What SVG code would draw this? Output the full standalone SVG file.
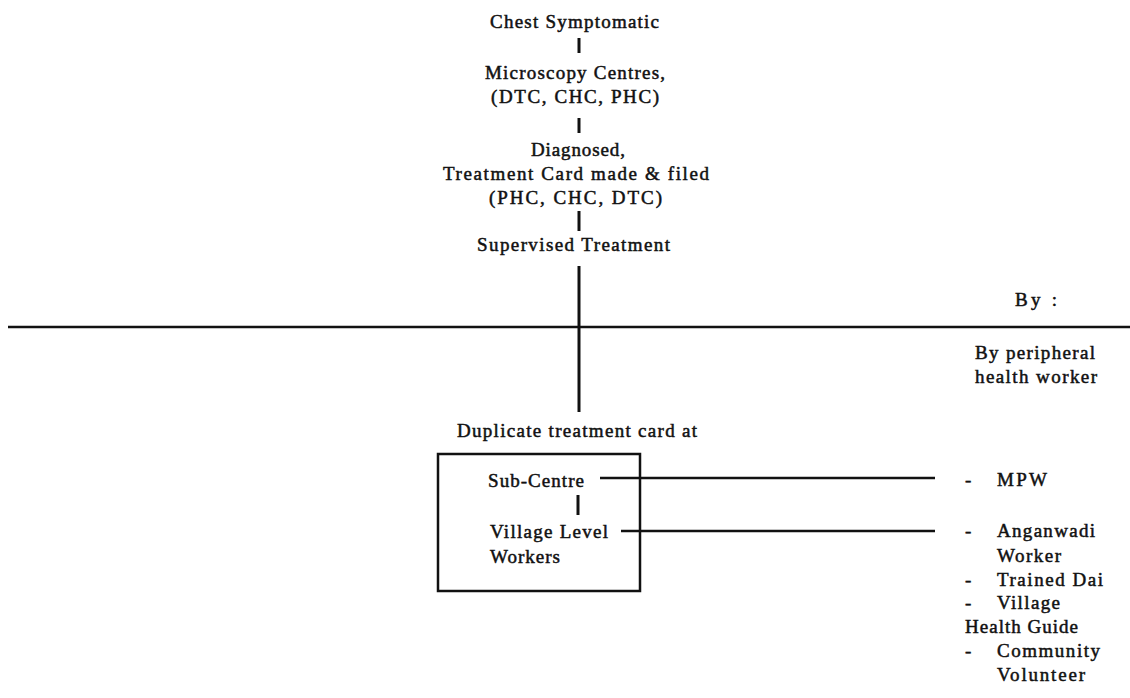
<svg xmlns="http://www.w3.org/2000/svg" width="1130" height="698" viewBox="0 0 1130 698">
<style>
text{font-family:"Liberation Serif","Times New Roman",serif;font-size:19px;fill:#111;stroke:#111;stroke-width:0.5}
.ln{stroke:#111;fill:none;stroke-width:3}
.hl{stroke:#111;fill:none;stroke-width:2.5}
</style>
<rect width="1130" height="698" fill="#fff"/>
<g id="connectors">
<line class="ln" x1="579" y1="38" x2="579" y2="53"/>
<line class="ln" x1="579" y1="118" x2="579" y2="133"/>
<line class="ln" x1="579" y1="211" x2="579" y2="231"/>
<line class="ln" x1="579" y1="266" x2="579" y2="412"/>
<line class="hl" x1="8" y1="327" x2="1130" y2="327"/>
<line class="ln" x1="578" y1="495" x2="578" y2="515"/>
<line class="hl" x1="600" y1="478" x2="935" y2="478"/>
<line class="hl" x1="621" y1="531" x2="935" y2="531"/>
</g>
<g id="chest"><text x="490" y="28" textLength="169" lengthAdjust="spacing">Chest Symptomatic</text></g>
<g id="microscopy">
<text x="485" y="79" textLength="180" lengthAdjust="spacing">Microscopy Centres,</text>
<text x="491" y="103" textLength="168" lengthAdjust="spacing">(DTC, CHC, PHC)</text>
</g>
<g id="diagnosed">
<text x="531" y="156" textLength="94" lengthAdjust="spacing">Diagnosed,</text>
<text x="443" y="180" textLength="266" lengthAdjust="spacing">Treatment Card made &amp; filed</text>
<text x="489" y="204" textLength="173" lengthAdjust="spacing">(PHC, CHC, DTC)</text>
</g>
<g id="supervised"><text x="477" y="251" textLength="193" lengthAdjust="spacing">Supervised Treatment</text></g>
<g id="by"><text x="1015" y="306" textLength="42" lengthAdjust="spacing">By :</text></g>
<g id="peripheral">
<text x="975" y="359" textLength="120" lengthAdjust="spacing">By peripheral</text>
<text x="975" y="383" textLength="122" lengthAdjust="spacing">health worker</text>
</g>
<g id="duplicate"><text x="457" y="437" textLength="240" lengthAdjust="spacing">Duplicate treatment card at</text></g>
<g id="box">
<rect x="438" y="454" width="202" height="137" fill="none" stroke="#111" stroke-width="2.5"/>
</g>
<g id="subcentre"><text x="488" y="487" textLength="96" lengthAdjust="spacing">Sub-Centre</text></g>
<g id="village-level">
<text x="490" y="538" textLength="118" lengthAdjust="spacing">Village Level</text>
<text x="490" y="563" textLength="70" lengthAdjust="spacing">Workers</text>
</g>
<g id="mpw">
<text x="965" y="486">-</text>
<text x="997" y="486" textLength="50" lengthAdjust="spacing">MPW</text>
</g>
<g id="workers-list">
<text x="965" y="537">-</text>
<text x="997" y="537" textLength="98" lengthAdjust="spacing">Anganwadi</text>
<text x="997" y="562" textLength="64" lengthAdjust="spacing">Worker</text>
<text x="965" y="586">-</text>
<text x="997" y="586" textLength="106" lengthAdjust="spacing">Trained Dai</text>
<text x="965" y="609">-</text>
<text x="997" y="609" textLength="63" lengthAdjust="spacing">Village</text>
<text x="965" y="633" textLength="113" lengthAdjust="spacing">Health Guide</text>
<text x="965" y="657">-</text>
<text x="997" y="657" textLength="103" lengthAdjust="spacing">Community</text>
<text x="997" y="681" textLength="88" lengthAdjust="spacing">Volunteer</text>
</g>
</svg>
